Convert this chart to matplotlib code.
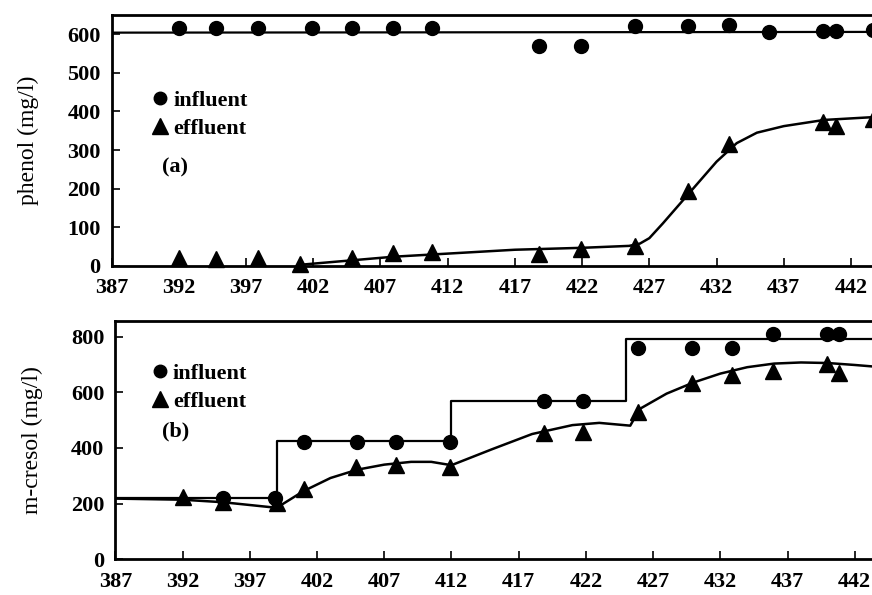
import matplotlib.pyplot as plt
from matplotlib.lines import Line2D

plt.rcParams['font.family'] = ['Liberation Serif', 'DejaVu Serif']
plt.rcParams['font.weight'] = 'bold'
plt.rcParams['font.size'] = 16

# --- phenol (a) ---
phenol_in_x = [392, 394.8, 397.9, 401.9, 404.9, 407.9, 410.8, 418.8, 421.9, 425.9, 429.9, 432.9, 435.9, 439.9, 440.9, 443.6]
phenol_in_y = [617, 617, 617, 616, 615, 616, 615, 570, 570, 622, 622, 625, 605, 607, 608, 610]
phenol_in_line_x = [387, 447]
phenol_in_line_y = [604, 606]

phenol_eff_x = [392, 394.8, 397.9, 401, 404.9, 407.9, 410.8, 418.8, 421.9, 425.9, 429.9, 432.9, 439.9, 440.9, 443.6]
phenol_eff_y = [20, 18, 20, 5, 20, 33, 36, 32, 45, 52, 195, 315, 372, 362, 380]
phenol_fit_x = [401, 405, 408, 412, 417, 422, 425.5, 426.3, 427, 428, 430, 432, 433.5, 435, 437, 440, 444, 447]
phenol_fit_y = [3, 15, 24, 32, 42, 47, 52, 58, 72, 110, 190, 270, 318, 345, 362, 378, 386, 388]

# --- m-cresol (b) ---
cresol_in_x = [395.0, 398.9, 401.0, 405.0, 407.9, 411.9, 418.9, 421.8, 425.9, 429.9, 432.9, 435.9, 439.9, 440.8]
cresol_in_y = [220, 220, 422, 422, 422, 422, 568, 568, 760, 760, 760, 808, 808, 808]
cresol_step_x = [387, 399, 399, 412, 412, 425, 425, 447]
cresol_step_y = [220, 220, 425, 425, 570, 570, 792, 792]

cresol_eff_x = [392, 395, 399, 401, 404.9, 407.9, 411.9, 418.9, 421.8, 425.9, 429.9, 432.9, 435.9, 439.9, 440.8]
cresol_eff_y = [224, 206, 202, 254, 331, 340, 331, 453, 457, 529, 632, 663, 678, 702, 670]
cresol_fit_x = [387, 392, 395, 399, 401, 403, 405, 407, 409, 410.5, 412, 415, 418, 421, 423, 425.3, 426, 428, 430, 432, 434, 436, 438, 440, 442, 444, 447]
cresol_fit_y = [218, 214, 205, 185, 245, 292, 322, 340, 350, 350, 338, 395, 450, 482, 490, 480, 540, 595, 635, 667, 690, 703, 707, 705, 698, 690, 682]

fig = plt.figure(figsize=(8.72, 5.95), dpi=100)
ax1 = fig.add_axes([0.128, 0.553, 0.925, 0.422])
ax2 = fig.add_axes([0.1323, 0.060, 0.925, 0.401])

ms_c, ms_t = 10, 12

ax1.plot(phenol_in_line_x, phenol_in_line_y, color='black', lw=1.6)
ax1.plot(phenol_fit_x, phenol_fit_y, color='black', lw=1.8)
ax1.plot(phenol_in_x, phenol_in_y, 'o', color='black', ms=ms_c, clip_on=False)
ax1.plot(phenol_eff_x, phenol_eff_y, '^', color='black', ms=ms_t, clip_on=False)
ax1.set_ylim(0, 650)
ax1.set_yticks(range(0, 601, 100))
ax1.set_ylabel('phenol (mg/l)', labelpad=20, fontsize=17)

ax2.plot(cresol_step_x, cresol_step_y, color='black', lw=1.6)
ax2.plot(cresol_fit_x, cresol_fit_y, color='black', lw=1.8)
ax2.plot(cresol_in_x, cresol_in_y, 'o', color='black', ms=ms_c, clip_on=False)
ax2.plot(cresol_eff_x, cresol_eff_y, '^', color='black', ms=ms_t, clip_on=False)
ax2.set_ylim(0, 857)
ax2.set_yticks(range(0, 801, 200))
ax2.set_ylabel('m-cresol (mg/l)', labelpad=20, fontsize=17)

handles = [Line2D([], [], marker='o', ls='', color='black', ms=9),
           Line2D([], [], marker='^', ls='', color='black', ms=11)]
for ax, tag, anchor, tag_pos in [(ax1, '(a)', (0.035, 0.735), (0.062, 0.394)),
                                 (ax2, '(b)', (0.030, 0.86), (0.058, 0.535))]:
    ax.set_xlim(387, 447)
    ax.set_xticks(range(387, 447, 5))
    ax.tick_params(direction='in', length=6, width=1.2, labelsize=16)
    ax.tick_params(axis='x', pad=9)
    ax.tick_params(axis='y', pad=8)
    for s in ax.spines.values():
        s.set_linewidth(2)
    ax.legend(handles, ['influent', 'effluent'], loc='upper left', bbox_to_anchor=anchor,
              frameon=False, handletextpad=0.1, handlelength=1.0, labelspacing=0.35,
              borderaxespad=0, fontsize=16)
    ax.text(tag_pos[0], tag_pos[1], tag, transform=ax.transAxes, fontsize=16,
            fontweight='bold', va='center')

fig.savefig('out.png', dpi=100)
